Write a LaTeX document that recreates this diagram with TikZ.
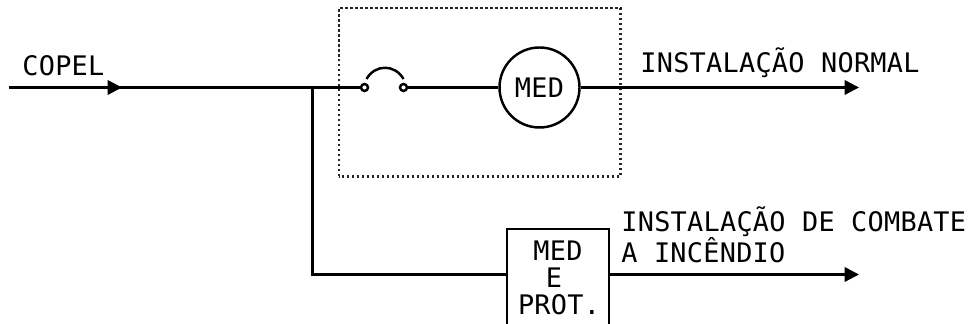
\documentclass[tikz,border=0pt]{standalone}
\usepackage{fontspec}
\usepackage{xcolor}
\setmainfont[LetterSpace=1]{DejaVu Sans Mono}
\usetikzlibrary{arrows.meta}
\tikzset{
  wire/.style={line width=1.4pt},
  flow/.style={wire,-{Triangle[length=0.29cm,width=0.29cm]}},
  texto/.style={font=\fontsize{15.3}{15.3}\selectfont,inner sep=0pt},
  rotulo/.style={texto,anchor=base west},
  terminal/.style={circle,draw,line width=1.4pt,fill=white,minimum size=0.14cm,inner sep=0pt},
}
\begin{document}
\begin{tikzpicture}
\clip (0,0) rectangle (19.4,6.48);
\draw[line width=1.3pt,black!85,dash pattern=on 0.045cm off 0.055cm] (6.78,2.95) rectangle (12.41,6.32);
\coordinate (entrada) at (0.18,4.73);
\coordinate (seta) at (2.44,4.73);
\coordinate (derivacao) at (6.25,4.73);
\coordinate (canto) at (6.25,0.99);
\coordinate (saidaA) at (17.18,4.73);
\coordinate (saidaB) at (17.18,0.99);
\draw[wire] (entrada)--(derivacao);
\node[terminal] (fusA) at (7.29,4.73) {};
\node[terminal] (fusB) at (8.07,4.73) {};
\node[circle,draw,wire,minimum size=1.6cm,inner sep=0pt,texto] (med) at (10.79,4.73) {MED};
\node[draw,wire,minimum width=2.04cm,minimum height=2.2cm,inner sep=0pt] (prot) at (11.16,0.8) {};
\node[texto] (protMed) at (11.16,1.46) {MED};
\node[texto] (protE) at (11.08,0.92) {E};
\node[texto] (protProt) at (11.18,0.38) {PROT.};
\draw[flow] (entrada)--(seta);
\draw[wire] (derivacao)--(fusA);
\draw[wire] (fusB)--(med);
\draw[flow] (med)--(saidaA);
\draw[wire] ([shift={(0.04,0.17)}]fusA.center) to[out=60,in=120,looseness=1.2] ([yshift=0.17cm]fusB.center);
\draw[wire] (derivacao)--(canto)--(canto-|prot.west);
\draw[flow] (canto-|prot.east)--(saidaB);
\node[rotulo] (copel) at (0.44,4.96) {COPEL};
\node[rotulo] (normal) at (12.8,5.02) {INSTALAÇÃO NORMAL};
\node[rotulo] (combate) at (12.42,1.84) {INSTALAÇÃO DE COMBATE};
\node[rotulo] (incendio) at (12.42,1.22) {A INCÊNDIO};
\end{tikzpicture}
\end{document}
